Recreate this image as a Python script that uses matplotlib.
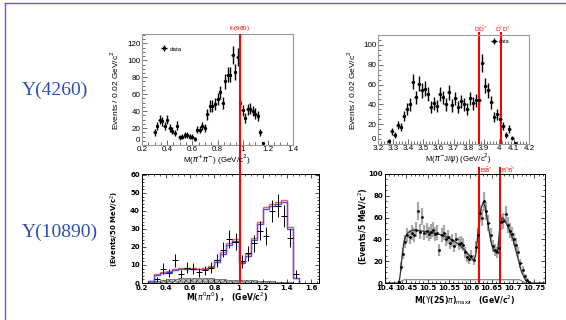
import numpy as np
import matplotlib
matplotlib.use("Agg")
import matplotlib.pyplot as plt
from matplotlib.lines import Line2D
from matplotlib.ticker import MultipleLocator
import matplotlib.transforms as mtransforms

plt.rcParams['font.family'] = ['Liberation Sans', 'DejaVu Sans']
plt.rcParams['hatch.linewidth'] = 0.4

# ---------------- Y(4260): M(pi+ pi-), 20 MeV bins ----------------
pipi_mass = np.round(0.30 + 0.02 * np.arange(44), 2)
pipi_counts = [15, 22, 30, 28, 22, 30, 20, 17, 14, 23, 9, 10, 12, 12, 10, 10,
               7, 18, 18, 22, 20, 36, 46, 46, 48, 54, 62, 50, 75, 83, 83, 106,
               86, 104, 49, 41, 32, 42, 43, 40, 37, 34, 15, 2]
f0_position = 0.975

# ---------------- Y(4260): M(pi- J/psi), 20 MeV bins ----------------
jpsi_mass = np.round(3.27 + 0.02 * np.arange(43), 2)
jpsi_counts = [3, 13, 9, 19, 17, 28, 35, 40, 63, 47, 61, 54, 56, 50, 37, 41,
               38, 50, 47, 40, 52, 39, 46, 37, 43, 40, 35, 46, 41, 44, 44, 82,
               59, 54, 42, 27, 30, 25, 18, 9, 15, 6, 1]
dd_thresholds = [3.872, 4.014]
dd_labels = [r"D$\bar{\rm D}^{*}$", r"$\bar{\rm D}^{*}$D$^{*}$"]

# ---------------- Y(10890): M(pi0 pi0), 50 MeV bins ----------------
pi0_edges = np.round(0.25 + 0.05 * np.arange(26), 2)
pi0_fit_blue = [1, 4.5, 5.5, 6, 7, 7.5, 8, 8, 7.5, 8, 9, 11.5, 16, 21, 23.5,
                11, 15, 24, 33, 41, 43, 44, 45, 30, 2.5]
pi0_fit_red = [1.2, 5, 6, 6.6, 7.8, 8.2, 8.4, 8.4, 8, 8.5, 9.6, 12.5, 17, 22,
               24.3, 11.6, 16, 25, 34, 42, 44, 45, 46, 31, 3]
pi0_bkg = [0.3, 1.0, 1.5, 2.0, 2.3, 2.5, 2.7, 2.8, 2.8, 2.7, 2.5, 2.2, 2.0,
           1.8, 1.6, 1.5, 1.4, 1.4, 1.3, 1.2, 1.0, 0.8, 0.6, 0.3, 0.0]
pi0_centers = np.round(0.325 + 0.05 * np.arange(24), 3)
pi0_counts = [2, 8, 5.5, 12.5, 5, 8.5, 8, 6, 7, 8.5, 12.5, 18.5, 24.5, 23, 12,
              16.5, 22, 29, 26, 40, 43, 37, 25, 5]

# ---------------- Y(10890): M(Y(2S) pi)max, 5 MeV bins ----------------
ups_mass = np.round(10.4325 + 0.005 * np.arange(62), 4)
ups_counts = [1, 15, 27, 38, 44, 42, 46, 44, 49, 66, 47, 61, 46, 48, 45, 47,
              49, 45, 46, 30, 44, 46, 40, 42, 37, 39, 34, 40, 36, 37, 35, 28,
              24, 22, 25, 21, 33, 44, 64, 60, 75, 66, 55, 44, 34, 30, 28, 32,
              56, 57, 63, 53, 48, 45, 40, 35, 28, 18, 12, 6, 3, 1]
ups_fit_mass = [10.40, 10.430, 10.434, 10.437, 10.440, 10.444, 10.448, 10.455,
                10.465, 10.48, 10.50, 10.52, 10.54, 10.56, 10.575, 10.59,
                10.60, 10.608, 10.612, 10.616, 10.620, 10.625, 10.630, 10.635,
                10.640, 10.645, 10.650, 10.655, 10.660, 10.664, 10.667, 10.670,
                10.675, 10.680, 10.690, 10.700, 10.710, 10.720, 10.730, 10.740,
                10.775]
ups_fit = [0, 0, 3, 12, 25, 37, 43, 46.5, 48.5, 48, 47, 45.5, 43, 39, 35, 29,
           24, 21, 24, 38, 55, 68, 74, 70, 58, 45, 35, 30, 28, 30, 42, 55, 60,
           58, 50, 40, 25, 10, 2, 0, 0]
ups_bkg_mass = [10.43, 10.445, 10.715, 10.73]
ups_bkg = [0, 3, 3, 0]
bb_thresholds = [10.620, 10.670]
bb_labels = [r"B$\bar{\rm B}^{*}$", r"B$^{*}\bar{\rm B}^{*}$"]

W, H = 566, 320
fig = plt.figure(figsize=(W / 100, H / 100), dpi=100)
fig.patch.set_facecolor('white')


def box(l, t, r, b):
    return [l / W, 1 - b / H, (r - l) / W, (b - t) / H]


def ftext(x, y, s, **kw):
    fig.text(x / W, 1 - y / H, s, **kw)


def root_style(ax, yticks):
    for sp in ax.spines.values():
        sp.set_color('#999999')
        sp.set_linewidth(0.8)
    ax.tick_params(which='both', direction='in', top=False, right=False,
                   labelsize=5.8, width=0.5, color='#333333', pad=1.0)
    ax.tick_params(which='major', length=3.5)
    ax.tick_params(which='minor', length=2)
    # ROOT puts the zero label just above the first x label
    ax.set_yticks(yticks)
    ax.set_yticklabels([''] + [str(v) for v in yticks[1:]])
    ax.text(-0.012, 0.005, str(yticks[0]), transform=ax.transAxes,
            fontsize=5.8, ha='right', va='bottom')


def paw_style(ax):
    for sp in ax.spines.values():
        sp.set_color('black')
        sp.set_linewidth(0.7)
    ax.tick_params(which='both', direction='in', top=True, right=True,
                   labelsize=5, width=0.5, pad=1.5)
    ax.tick_params(which='major', length=3)
    ax.tick_params(which='minor', length=1.5)
    for lab in ax.get_xticklabels() + ax.get_yticklabels():
        lab.set_fontweight('bold')
        lab.set_family('DejaVu Sans')


# ---- top left: M(pi+ pi-) ----
ax1 = fig.add_axes(box(142, 34, 293, 145))
ax1.errorbar(pipi_mass, pipi_counts, yerr=np.sqrt(pipi_counts), xerr=0.01,
             fmt='o', ms=1.4, color='black', elinewidth=1.0, capsize=0,
             label='data')
ax1.set_xlim(0.2, 1.4)
ax1.set_ylim(0, 131)
ax1.xaxis.set_minor_locator(MultipleLocator(0.05))
ax1.yaxis.set_minor_locator(MultipleLocator(5))
ax1.set_xticks(np.round(np.arange(0.2, 1.41, 0.2), 1))
ax1.set_xticklabels(['0.2', '0.4', '0.6', '0.8', '1', '1.2', '1.4'])
root_style(ax1, [0, 20, 40, 60, 80, 100, 120])
ax1.legend(loc='upper left', bbox_to_anchor=(0.09, 0.93), frameon=False,
           fontsize=4.5, handlelength=1.2, handletextpad=0.3, borderpad=0.2)
ftext(217, 160, r"M($\pi^{+}\pi^{-}$) (GeV/c$^{2}$)", fontsize=5.8,
      ha='center', va='center')
ftext(115, 90, r"Events / 0.02 GeV/c$^{2}$", fontsize=6, rotation=90,
      ha='center', va='center')

# ---- top right: M(pi- J/psi) ----
ax2 = fig.add_axes(box(378, 35, 529, 144))
ax2.errorbar(jpsi_mass, jpsi_counts, yerr=np.sqrt(jpsi_counts), xerr=0.01,
             fmt='o', ms=1.4, color='black', elinewidth=1.0, capsize=0,
             label='data')
ax2.set_xlim(3.2, 4.2)
ax2.set_ylim(0, 110)
ax2.xaxis.set_minor_locator(MultipleLocator(0.02))
ax2.yaxis.set_minor_locator(MultipleLocator(5))
ax2.set_xticks(np.round(np.arange(3.2, 4.21, 0.1), 1))
ax2.set_xticklabels(['3.2', '3.3', '3.4', '3.5', '3.6', '3.7', '3.8', '3.9',
                     '4', '4.1', '4.2'])
root_style(ax2, [0, 20, 40, 60, 80, 100])
ax2.legend(loc='upper left', bbox_to_anchor=(0.72, 1.0), frameon=False,
           fontsize=4, handlelength=1.2, handletextpad=0.3, borderpad=0.2)
t2 = mtransforms.blended_transform_factory(ax2.transData, ax2.transAxes)
for xv, lab in zip(dd_thresholds, dd_labels):
    ax2.axvline(xv, ymin=0, ymax=1.02, color='red', lw=1.5, clip_on=False)
    ax2.text(xv + 0.01, 1.01, lab, transform=t2, color='red', fontsize=4.5,
             ha='center', va='bottom')
ftext(458, 159, r"M($\pi^{-}$J/$\psi$) (GeV/c$^{2}$)", fontsize=5.6,
      ha='center', va='center')
ftext(352, 90, r"Events / 0.02 GeV/c$^{2}$", fontsize=6, rotation=90,
      ha='center', va='center')

# ---- bottom left: M(pi0 pi0) ----
ax3 = fig.add_axes(box(142, 174, 319, 283))
ax3.stairs(pi0_bkg, pi0_edges, fill=True, facecolor='#bdbdbd',
           edgecolor='#444444', hatch='xxxxxx', lw=0.4)
ax3.stairs(pi0_fit_red, pi0_edges, color='#ff5a5a', lw=1.0)
ax3.stairs(pi0_fit_blue, pi0_edges, color='#5050ff', lw=1.0)
ax3.errorbar(pi0_centers, pi0_counts, yerr=np.sqrt(pi0_counts), xerr=0.025,
             fmt='none', ecolor='black', elinewidth=0.7, capsize=0)
ax3.set_xlim(0.2, 1.667)
ax3.set_ylim(0, 60.5)
ax3.set_xticks(np.round(np.arange(0.2, 1.61, 0.2), 1))
ax3.set_xticklabels(['0.2', '0.4', '0.6', '0.8', '1', '1.2', '1.4', '1.6'])
ax3.xaxis.set_minor_locator(MultipleLocator(0.05))
ax3.yaxis.set_major_locator(MultipleLocator(10))
ax3.yaxis.set_minor_locator(MultipleLocator(2))
paw_style(ax3)
ftext(227, 297, r"M($\pi^{0}\pi^{0}$) ,   (GeV/c$^{2}$)", fontsize=5.5,
      fontweight='bold', family='DejaVu Sans', ha='center', va='center')
ftext(115, 229, r"(Events/50 MeV/c$^{2}$)", fontsize=5, fontweight='bold',
      family='DejaVu Sans', rotation=90, ha='center', va='center')

# f0(980) marker spanning both left-hand panels
tf0 = mtransforms.blended_transform_factory(ax1.transData, fig.transFigure)
fig.add_artist(Line2D([f0_position, f0_position], [1 - 35 / H, 1 - 283 / H],
                      transform=tf0, color='red', lw=1.5))
ax1.text(f0_position, 1.01, r"f$_{0}$(980)", transform=mtransforms.
         blended_transform_factory(ax1.transData, ax1.transAxes),
         color='red', fontsize=4.5, ha='center', va='bottom')

# ---- bottom right: M(Y(2S) pi)max ----
ax4 = fig.add_axes(box(385, 174, 545, 283))
ax4.errorbar(ups_mass, ups_counts, yerr=np.sqrt(ups_counts), fmt='none',
             ecolor='#a8a8a8', elinewidth=1.6, capsize=0)
ax4.plot(ups_bkg_mass, ups_bkg, color='#777777', lw=0.8)
ax4.plot(ups_fit_mass, ups_fit, color='#333333', lw=0.9)
ax4.errorbar(ups_mass, ups_counts, xerr=0.0025, fmt='o', ms=1.0,
             color='black', elinewidth=0.6, capsize=0)
ax4.set_xlim(10.4, 10.775)
ax4.set_ylim(0, 100)
ax4.set_xticks(np.round(np.arange(10.4, 10.751, 0.05), 2))
ax4.set_xticklabels(['10.4', '10.45', '10.5', '10.55', '10.6', '10.65',
                     '10.7', '10.75'])
ax4.xaxis.set_minor_locator(MultipleLocator(0.01))
ax4.yaxis.set_major_locator(MultipleLocator(20))
ax4.yaxis.set_minor_locator(MultipleLocator(5))
paw_style(ax4)
t4 = mtransforms.blended_transform_factory(ax4.transData, ax4.transAxes)
for xv, lab in zip(bb_thresholds, bb_labels):
    ax4.axvline(xv, ymin=0, ymax=1.055, color='red', lw=1.5, clip_on=False)
    ax4.text(xv + 0.003, 1.03, lab, transform=t4, color='red', fontsize=4.5,
             ha='left', va='center')
ftext(465, 300, r"M($\Upsilon$(2S)$\pi$)$_{\rm max}$,   (GeV/c$^{2}$)",
      fontsize=5.5, fontweight='bold', family='DejaVu Sans', ha='center',
      va='center')
ftext(363, 226, r"(Events/5 MeV/c$^{2}$)", fontsize=5.5, fontweight='bold',
      family='DejaVu Sans', rotation=90, ha='center', va='center')

# ---- row titles ----
ftext(22, 90, "Y(4260)", fontsize=14, family='Liberation Serif',
      color='#2B50B8', ha='left', va='center')
ftext(22, 232, "Y(10890)", fontsize=14, family='Liberation Serif',
      color='#2B50B8', ha='left', va='center')

# ---- slide frame ----
fig.add_artist(Line2D([5 / W, 5 / W], [0, 1 - 3 / H], transform=fig.transFigure,
                      color='#6a5acd', lw=1.0))
fig.add_artist(Line2D([5 / W, 1], [1 - 3 / H, 1 - 3 / H],
                      transform=fig.transFigure, color='#6a5acd', lw=1.0))

fig.savefig('out.png', dpi=100)
